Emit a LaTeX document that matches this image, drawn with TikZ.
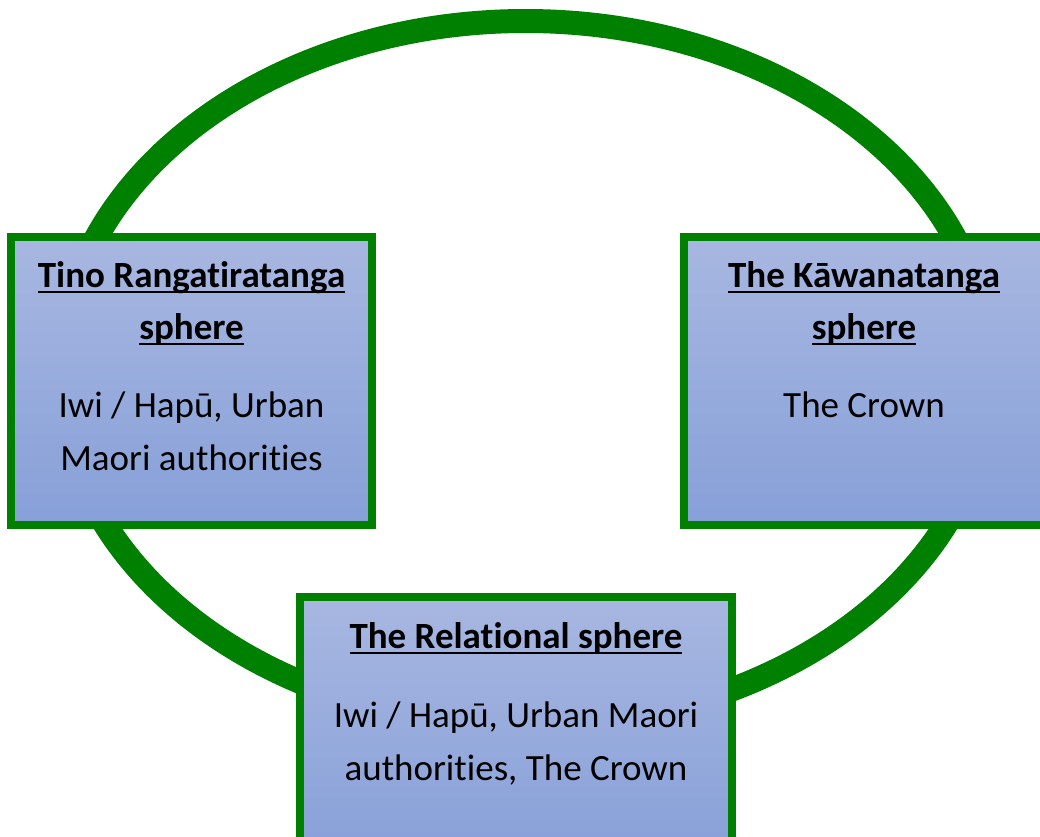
\documentclass[tikz,border=0pt]{standalone}
\usepackage{fontspec}
\setmainfont{Carlito}[Ligatures=NoCommon]

\definecolor{ringgreen}{RGB}{0,128,0}
\definecolor{boxtop}{RGB}{168,183,225}
\definecolor{boxbot}{RGB}{135,160,216}

% underline that runs through the descenders
\newcommand\undl[1]{\setbox0\hbox{#1}\rlap{\rule[-6pt]{\wd0}{2.5pt}}\box0}

\begin{document}
\begin{tikzpicture}
  [x=1pt, y=-1pt,
   sphere/.style={draw=ringgreen, line width=8pt, top color=boxtop, bottom color=boxbot, inner sep=0pt},
   head/.style={anchor=base, align=center, font=\fontsize{37}{52}\selectfont\bfseries},
   body/.style={anchor=base, align=center, font=\fontsize{37}{53}\selectfont}]
	\useasboundingbox (0,0) rectangle (1040,836);

	\draw [ringgreen, line width=24pt] (525.5,373.5) ellipse [x radius=465, y radius=352.5];

	\node [name=tino, sphere, minimum width=361pt, minimum height=288pt] at (191.5,381) {};
	\node [name=kawa, sphere, minimum width=361pt, minimum height=288pt] at (864,381) {};
	\node [name=rel, sphere, minimum width=432pt, minimum height=263pt] at (516,728.5) {};

	% base anchor sits on the last line
	\node [name=tinohead, head] at ([yshift=-106pt]tino.north) {\undl{Tino Rangatiratanga}\\\undl{sphere}};
	\node [name=tinobody, body] at ([yshift=-237pt]tino.north) {Iwi / Hapū, Urban\\Maori authorities};

	\node [name=kawahead, head] at ([yshift=-106pt]kawa.north) {\undl{The Kāwanatanga}\\\undl{sphere}};
	\node [name=kawabody, body] at ([yshift=-184pt]kawa.north) {The Crown};

	\node [name=relhead, head] at ([yshift=-55pt]rel.north) {\undl{The Relational sphere}};
	\node [name=relbody, body] at ([yshift=-187pt]rel.north) {Iwi / Hapū, Urban Maori\\authorities, The Crown};
\end{tikzpicture}
\end{document}
